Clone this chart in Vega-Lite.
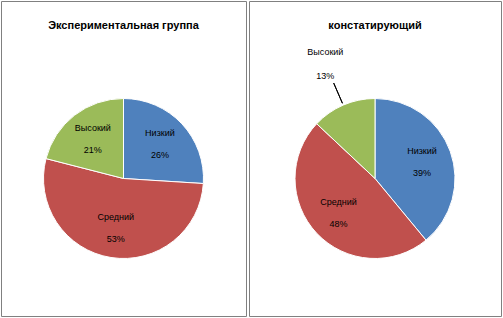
{
  "$schema": "https://vega.github.io/schema/vega-lite/v6.json",
  "padding": {"left": 0, "top": 0, "right": 0, "bottom": 0},
  "background": "white",
  "spacing": 1,
  "datasets": {
    "exp": [
      {"cat": "Низкий", "order": 1, "share": 0.26},
      {"cat": "Средний", "order": 2, "share": 0.53},
      {"cat": "Высокий", "order": 3, "share": 0.21}
    ],
    "kon": [
      {"cat": "Низкий", "order": 1, "share": 0.39},
      {"cat": "Средний", "order": 2, "share": 0.48},
      {"cat": "Высокий", "order": 3, "share": 0.13}
    ]
  },
  "config": {
    "view": {"stroke": "#808080", "strokeWidth": 1},
    "font": "Liberation Sans",
    "title": {"fontSize": 11, "fontWeight": "bold", "color": "black", "font": "Liberation Sans", "anchor": "middle", "offset": -30}
  },
  "hconcat": [
    {
      "width": 245,
      "height": 315,
      "view": {"stroke": "#808080", "strokeWidth": 1, "fill": "white"},
      "title": "Экспериментальная группа",
      "data": {"name": "exp"},
      "encoding": {
        "theta": {"field": "share", "type": "quantitative", "stack": true},
        "order": {"field": "order", "type": "quantitative", "sort": "ascending"},
        "detail": {"field": "cat", "type": "nominal"}
      },
      "layer": [
        {
          "mark": {"type": "arc", "radius": 80, "stroke": "white", "strokeWidth": 1, "yOffset": 20},
          "encoding": {
            "color": {"field": "cat", "type": "nominal", "scale": {"domain": ["Низкий", "Средний", "Высокий"], "range": ["#4F81BD", "#C0504D", "#9BBB59"]}, "legend": null}
          }
        },
        {
          "mark": {"type": "text", "radius": 50, "dy": -11, "yOffset": 20, "fontSize": 9, "color": "black"},
          "encoding": {"text": {"field": "cat", "type": "nominal"}}
        },
        {
          "mark": {"type": "text", "radius": 50, "dy": 11, "yOffset": 20, "fontSize": 9, "color": "black"},
          "encoding": {"text": {"field": "share", "type": "quantitative", "format": ".0%"}}
        }
      ]
    },
    {
      "width": 252,
      "height": 315,
      "view": {"stroke": "#808080", "strokeWidth": 1, "fill": "white"},
      "title": "констатирующий",
      "data": {"name": "kon"},
      "encoding": {
        "theta": {"field": "share", "type": "quantitative", "stack": true},
        "order": {"field": "order", "type": "quantitative", "sort": "ascending"},
        "detail": {"field": "cat", "type": "nominal"}
      },
      "layer": [
        {
          "mark": {"type": "arc", "radius": 80, "stroke": "white", "strokeWidth": 1, "yOffset": 20},
          "encoding": {
            "color": {"field": "cat", "type": "nominal", "scale": {"domain": ["Низкий", "Средний", "Высокий"], "range": ["#4F81BD", "#C0504D", "#9BBB59"]}, "legend": null}
          }
        },
        {
          "mark": {"type": "arc", "radius": 104, "radius2": 82, "padAngle": 1, "fill": "white", "fillOpacity": 0, "stroke": "black", "strokeWidth": 1, "yOffset": 20},
          "encoding": {
            "strokeOpacity": {"condition": {"test": "datum.cat === 'Высокий'", "value": 1}, "value": 0}
          }
        },
        {
          "mark": {"type": "text", "radius": 50, "dy": -11, "yOffset": 20, "fontSize": 9, "color": "black"},
          "encoding": {"text": {"condition": {"test": "datum.cat === 'Высокий'", "value": ""}, "field": "cat", "type": "nominal"}}
        },
        {
          "mark": {"type": "text", "radius": 50, "dy": 11, "yOffset": 20, "fontSize": 9, "color": "black"},
          "encoding": {"text": {"condition": {"test": "datum.cat === 'Высокий'", "value": ""}, "field": "share", "type": "quantitative", "format": ".0%"}}
        },
        {
          "mark": {"type": "text", "radius": 125, "dy": -12, "yOffset": 20, "fontSize": 9, "color": "black"},
          "encoding": {"text": {"condition": {"test": "datum.cat === 'Высокий'", "field": "cat", "type": "nominal"}, "value": ""}}
        },
        {
          "mark": {"type": "text", "radius": 125, "dy": 12, "yOffset": 20, "fontSize": 9, "color": "black"},
          "encoding": {"text": {"condition": {"test": "datum.cat === 'Высокий'", "field": "share", "type": "quantitative", "format": ".0%"}, "value": ""}}
        }
      ]
    }
  ]
}
